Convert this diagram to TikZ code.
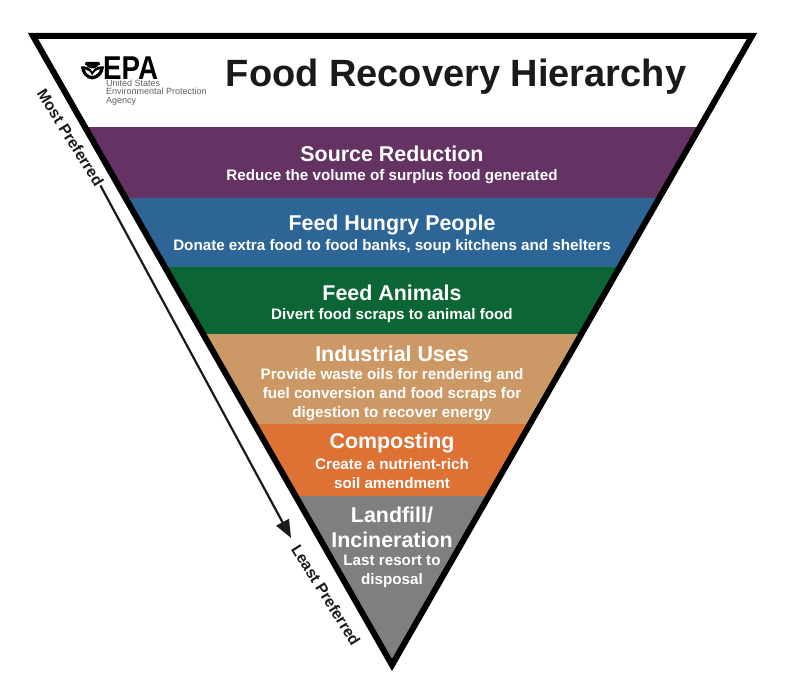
\documentclass[tikz,border=0pt]{standalone}
\usepackage{fontspec}
\setmainfont{Liberation Sans}
\usetikzlibrary{arrows.meta}
\definecolor{cpurple}{HTML}{643263}
\definecolor{cblue}{HTML}{2C6596}
\definecolor{cgreen}{HTML}{0B6535}
\definecolor{ctan}{HTML}{CC9966}
\definecolor{corange}{HTML}{DE7234}
\definecolor{cgrey}{HTML}{7F7F7F}
\definecolor{cink}{HTML}{1A1A1A}
\tikzset{
  headtext/.style={text=white,font=\bfseries\fontsize{21.4}{25}\selectfont,align=center,inner sep=0pt},
  subtext/.style={text=white,font=\bfseries\fontsize{15.2}{19}\selectfont,align=center,inner sep=0pt},
  sidetext/.style={text=cink,font=\bfseries\fontsize{15.7}{17}\selectfont,inner sep=0pt,rotate=-58},
  tri/.style={draw=black,line width=6pt,miter limit=10,line join=miter}
}
\begin{document}
\begin{tikzpicture}[x=1pt,y=-1pt]
\useasboundingbox (0,0) rectangle (800,684);
\fill[white] (0,0) rectangle (800,684);
\begin{scope}
\clip (33,36) -- (752,36) -- (392,665) -- cycle;
\fill[cpurple] (0,127) rectangle (800,198);
\fill[cblue] (0,198) rectangle (800,267);
\fill[cgreen] (0,267) rectangle (800,334);
\fill[ctan] (0,334) rectangle (800,424);
\fill[corange] (0,424) rectangle (800,496);
\fill[cgrey] (0,496) rectangle (800,684);
\end{scope}
\draw[tri] (33,36) -- (752,36) -- (392,665) -- cycle;
% title
\node[inner sep=0pt,font=\bfseries\fontsize{38}{40}\selectfont,text=cink] (title) at (456,77) {Food Recovery Hierarchy};
% EPA logo
\node[inner sep=0pt,font=\fontsize{33}{33}\selectfont\bfseries,text=black,anchor=west,xscale=0.84] (epa) at (103,68) {EPA};
\fill[black] (85.5,62) arc[start angle=180,end angle=0,x radius=7,y radius=6.5] -- cycle;
\fill[white] (88,59.5) rectangle (97,60.8);
\fill[black] (85,63) rectangle (100,65);
\fill[black] (81,66.5) .. controls (86,65.5) and (91,68) .. (92.3,72) .. controls (93.5,68) and (99,65.5) .. (104,66.5)
  .. controls (104,73) and (99,79) .. (92.3,79.5) .. controls (86,79) and (81,73) .. (81,66.5) -- cycle;
\fill[white] (92.3,76) .. controls (88,75.5) and (85.5,72) .. (85,69.5) .. controls (88,70) and (91,72) .. (92.3,76) .. controls (93.5,72) and (96.5,70) .. (100,69.5) .. controls (99,72) and (96.5,75.5) .. (92.3,76) -- cycle;
\node[inner sep=0pt,anchor=north west,align=left,text=black!62,font=\fontsize{9}{8.6}\selectfont] (agency) at (106,79.5) {United States\\Environmental Protection\\Agency};
% bands
\node[headtext] (h1) at (392,154) {Source Reduction};
\node[subtext] (s1) at (392,177) {Reduce the volume of surplus food generated};
\node[headtext] (h2) at (392,225) {Feed Hungry People};
\node[subtext] (s2) at (392,247) {Donate extra food to food banks, soup kitchens and shelters};
\node[headtext] (h3) at (392,293) {Feed Animals};
\node[subtext] (s3) at (392,316) {Divert food scraps to animal food};
\node[headtext] (h4) at (392,354) {Industrial Uses};
\node[subtext] (s4) at (392,395) {Provide waste oils for rendering and\\fuel conversion and food scraps for\\digestion to recover energy};
\node[headtext] (h5) at (392,443) {Composting};
\node[subtext] (s5) at (392,473.5) {Create a nutrient-rich\\soil amendment};
\node[headtext] (h6) at (392,527) {Landfill/\\Incineration};
\node[subtext] (s6) at (392,571.5) {Last resort to\\disposal};
% side
\node[sidetext] (most) at (70.5,137.5) {Most Preferred};
\node[sidetext] (least) at (326,595) {Least Preferred};
\draw[line width=2.2pt,cink,-{Triangle[length=18pt,width=14pt]},shorten <=1pt,shorten >=9pt] (most.east) -- (least.west);
\end{tikzpicture}
\end{document}
